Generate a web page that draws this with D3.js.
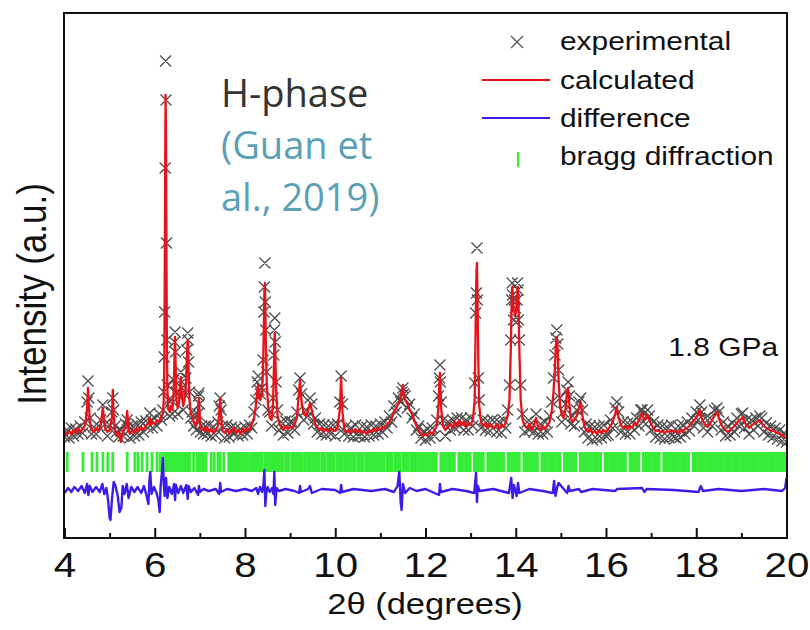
<!DOCTYPE html>
<html><head><meta charset="utf-8">
<script src="https://cdn.jsdelivr.net/npm/d3@7"></script>
<style>body{margin:0;background:#fff} svg{display:block}</style>
</head><body>
<svg id="chart" width="810" height="630"></svg>
<script>
// ---------- DATA ----------
const twoTheta = [
4.00,4.05,4.10,4.15,4.20,4.25,4.30,4.35,4.40,4.45,
4.50,4.52,4.54,4.57,4.60,4.65,4.70,4.75,4.80,4.85,
4.90,4.95,5.00,5.05,5.07,5.09,5.12,5.15,5.20,5.25,
5.30,5.35,5.39,5.42,5.45,5.50,5.55,5.60,5.65,5.70,
5.75,5.80,5.85,5.89,5.92,5.95,6.00,6.05,6.10,6.15,
6.18,6.20,6.21,6.22,6.23,6.24,6.25,6.26,6.27,6.28,
6.30,6.33,6.36,6.39,6.42,6.44,6.45,6.46,6.48,6.51,
6.54,6.56,6.58,6.60,6.63,6.66,6.69,6.71,6.73,6.74,
6.75,6.77,6.80,6.83,6.86,6.89,6.92,6.95,6.97,6.98,
6.99,7.01,7.04,7.08,
7.12,7.16,7.20,7.25,7.30,7.35,7.40,7.43,7.45,7.47,
7.50,7.55,7.60,7.65,7.70,7.75,7.80,7.85,7.90,7.95,
8.00,8.05,8.10,8.15,8.20,8.24,8.27,8.29,8.31,8.34,
8.37,8.40,8.42,8.43,8.44,8.45,8.46,8.48,8.51,8.55,
8.59,8.62,8.64,8.65,8.66,8.67,8.69,8.72,8.76,8.80,
8.85,8.90,8.95,9.00,
9.05,9.10,9.15,9.19,9.22,9.25,9.30,9.35,9.40,9.44,
9.48,9.52,9.56,9.60,9.65,9.70,9.75,9.80,9.85,9.90,
9.95,10.00,10.05,10.10,10.13,10.16,10.20,10.25,10.30,10.35,
10.40,10.45,10.50,
10.55,10.60,10.65,10.70,10.75,10.80,10.85,10.90,10.95,11.00,
11.05,11.10,11.15,11.20,11.25,11.30,11.35,11.40,11.45,11.48,
11.50,11.52,11.55,11.60,11.65,11.70,11.75,11.80,11.85,11.90,
11.95,12.00,
12.05,12.10,12.15,12.20,12.25,12.29,12.31,12.32,12.33,12.35,
12.39,12.44,12.50,12.55,12.60,12.65,12.70,12.75,12.80,12.85,
12.90,12.95,13.00,13.05,13.09,13.11,13.13,13.14,13.15,13.17,
13.19,13.23,13.28,13.33,13.38,13.43,13.48,
13.53,13.58,13.63,13.68,13.73,13.78,13.82,13.86,13.89,13.91,
13.92,13.93,13.95,13.97,13.99,14.01,14.03,14.04,14.05,14.06,
14.08,14.11,14.15,14.20,14.25,14.30,14.35,14.40,14.45,14.50,
14.55,14.60,14.65,14.70,14.75,14.80,14.84,14.87,14.89,14.91,
14.93,14.95,14.98,15.02,15.06,15.10,15.13,15.16,15.19,15.22,
15.26,15.30,15.35,15.40,15.44,15.48,15.52,15.56,15.60,15.65,
15.70,15.75,15.80,15.85,15.90,15.95,16.00,
16.05,16.10,16.15,16.20,16.24,16.28,16.33,16.38,16.43,16.48,
16.53,16.58,16.63,16.68,16.73,16.77,16.80,16.84,16.88,16.92,
16.96,17.00,17.05,17.10,17.15,17.20,17.25,17.30,17.35,17.40,
17.45,17.50,
17.55,17.60,17.65,17.70,17.75,17.80,17.85,17.90,17.95,18.00,
18.04,18.08,18.12,18.16,18.20,18.25,18.30,18.35,18.40,18.46,
18.50,18.55,18.60,18.65,18.70,18.75,18.80,18.85,18.90,18.95,
19.00,19.03,19.07,19.12,19.17,19.22,19.27,19.32,19.37,19.41,
19.45,19.50,19.55,19.60,19.65,19.70,19.75,19.80,19.85,19.90,
19.95,20.00
];
const yCalc = [
8,5,9,6,10,7,12,8,11,14,
30,52,34,16,10,8,12,9,14,32,
12,8,10,22,50,24,10,4,8,-2,
9,12,29,10,6,10,7,12,9,13,
10,14,16,22,15,18,16,20,18,24,
26,40,70,150,260,345,300,180,90,50,
32,28,34,30,50,90,103,80,40,32,
38,55,63,45,34,40,55,80,100,96,
70,40,28,22,18,16,14,20,38,42,
30,14,10,12,
9,13,8,11,7,10,14,28,42,24,
9,7,11,6,9,12,7,10,6,11,
8,12,10,16,22,34,48,55,42,40,
45,70,120,150,157,140,100,60,35,22,
20,35,70,100,107,90,50,25,16,13,
10,14,11,13,
12,16,22,45,60,40,26,24,30,37,
30,22,16,13,10,12,9,11,8,12,
10,9,12,30,62,28,11,8,10,7,
9,11,8,
10,7,9,6,10,8,11,9,12,10,
13,12,16,18,22,28,32,36,42,50,
55,44,40,36,30,26,20,14,10,6,
4,6,
5,8,6,10,14,35,60,67,55,30,
14,10,13,16,12,18,14,20,15,18,
13,17,15,20,40,110,170,177,150,80,
35,18,14,17,12,16,13,
12,16,11,15,13,18,24,40,90,140,
153,150,130,128,125,130,140,150,153,140,
90,40,20,14,12,16,10,14,22,12,
10,14,11,15,18,30,50,75,95,103,
90,60,35,25,22,30,45,52,35,22,
18,20,24,32,38,24,14,10,8,11,
7,9,6,10,7,10,8,
11,14,18,26,33,22,15,12,14,11,
14,12,17,15,20,24,27,20,22,25,
20,16,12,9,10,8,9,7,9,8,
10,8,
9,7,10,8,11,12,14,17,20,22,
26,30,22,18,15,13,16,20,24,28,
22,16,12,10,8,10,12,14,17,20,
21,23,18,14,12,14,16,17,19,20,
17,14,12,11,9,10,8,7,6,5,
3,2
];
const yObs = [
3,10,2,12,4,11,6,14,7,18,
38,59,42,22,6,13,6,14,20,35,
16,4,15,28,42,30,14,8,3,10,
4,16,20,14,2,14,4,16,5,18,
8,19,12,27,20,12,22,14,26,20,
30,48,83,128,272,379,340,197,100,55,
40,24,40,26,60,98,108,88,48,26,
44,60,68,52,30,46,62,90,107,100,
78,48,22,28,14,22,10,26,44,47,
36,8,14,6,
14,6,15,4,13,5,18,34,42,30,
14,2,15,3,13,6,12,4,11,5,
13,6,15,12,28,40,58,64,50,46,
52,80,128,153,177,138,110,68,30,28,
14,42,85,110,122,98,58,30,10,18,
5,19,7,18,
18,10,28,50,62,46,20,30,24,42,
36,16,22,8,16,6,15,5,14,6,
15,4,16,38,64,36,6,14,4,12,
3,15,4,
4,14,3,13,4,15,5,14,6,16,
8,18,12,24,18,34,28,42,38,48,
52,46,44,32,36,22,26,10,14,2,
8,0,
11,2,12,4,20,44,62,75,58,38,
20,4,18,10,20,12,22,14,22,10,
20,10,22,14,57,127,147,192,140,62,
40,12,20,10,19,9,20,
18,8,18,7,20,12,30,55,100,140,
157,145,120,140,132,118,140,157,150,120,
100,55,26,8,18,10,17,8,26,6,
16,6,18,8,24,38,62,85,102,110,
96,70,42,18,28,36,50,58,44,16,
24,14,30,38,42,30,8,16,2,14,
0,13,1,14,2,15,4,
5,20,12,32,38,28,8,18,6,17,
6,18,10,22,14,30,30,26,16,30,
24,10,18,3,15,2,14,1,13,2,
15,3,
2,14,3,15,6,18,9,22,14,28,
20,35,28,12,22,8,22,14,30,32,
28,10,18,4,14,5,17,8,22,14,
26,27,12,20,6,20,10,22,14,24,
22,8,17,5,14,3,12,1,10,-1,
7,-2
];
const diffTheta = [
4.00,4.08,4.15,4.22,4.30,4.38,4.45,4.50,4.53,4.56,
4.62,4.70,4.78,4.84,4.88,4.93,4.97,5.00,5.02,5.05,
5.09,5.13,5.18,5.22,5.26,5.29,5.33,5.38,5.42,5.48,
5.55,5.62,5.70,5.76,5.82,5.86,5.88,5.90,5.93,5.98,
6.04,6.08,6.11,6.13,6.16,6.18,6.20,6.22,6.25,6.28,
6.32,6.38,6.43,6.45,6.47,6.52,6.58,6.63,6.70,6.73,
6.75,6.80,6.88,6.96,6.98,7.00,7.08,7.20,7.35,7.43,
7.45,7.47,7.60,7.80,8.00,8.15,8.25,8.29,8.33,8.38,
8.41,8.43,8.45,8.47,8.50,8.55,8.60,8.63,8.65,8.67,
8.70,8.75,8.90,9.10,9.20,9.22,9.24,9.40,9.44,9.48,
9.70,10.00,10.11,10.13,10.15,10.40,10.80,11.10,11.30,11.38,
11.42,11.45,11.47,11.50,11.55,11.65,11.80,12.00,12.30,12.32,
12.34,12.60,12.90,13.08,13.12,13.14,13.16,13.20,13.50,13.85,
13.90,13.93,13.96,14.02,14.05,14.08,14.30,14.60,14.82,14.85,
14.88,14.92,14.95,15.10,15.14,15.17,15.20,15.40,15.45,15.70,
16.20,16.25,16.80,16.85,16.90,17.50,18.05,18.10,18.15,18.50,
19.00,19.50,19.90,19.97,20.00
];
const yDiff = [
-3,2,-2,3,-1,4,-3,6,-5,4,
-2,3,-2,6,-4,2,-12,-28,-30,-10,
8,4,-6,-22,-18,4,-4,6,-8,3,
-2,3,-3,4,-6,-14,8,18,-4,3,
-3,-10,-22,4,18,32,6,-6,12,-8,
3,-4,6,-10,5,-3,4,-3,5,-9,
4,-2,2,-5,4,-2,1,-1,1,-4,
7,-2,1,-1,1,-1,2,-4,3,-2,
6,20,-16,-4,3,-2,2,-4,18,-15,
2,-1,1,-1,-3,4,-2,1,4,-3,
1,0,-3,5,-2,1,-1,1,-2,4,
18,-12,-20,6,-3,2,-1,1,-5,6,
-2,1,-1,-3,17,-12,4,-1,1,-3,
12,-8,5,-6,7,-3,1,-1,-3,9,
-6,3,7,-1,-3,4,-1,1,-2,1,
-1,1,2,-2,1,0,-2,4,-1,1,
-1,1,-1,2,12
];
const braggPos = [
4.06,4.41,4.61,4.72,4.85,4.96,5.07,5.39,5.56,5.63,5.72,5.83,5.94,6.05,6.12,6.18,
6.24,6.27,6.31,6.34,6.38,6.42,6.45,6.49,6.52,6.56,6.60,6.63,6.67,6.70,6.74,6.77,
6.86,6.94,6.98,7.02,7.06,7.10,7.14,7.25,7.32,7.40,7.45,7.53,
7.64,7.68,7.72,7.76,7.80,7.84,7.88,7.92,7.96,8.00,8.04,
8.10,8.16,8.20,8.25,8.29,8.33,8.38,8.44,8.48,8.52,8.57,8.62,8.66,8.70,8.76,8.80,8.84,
8.90,8.94,8.98,9.04,9.08,9.13,9.17,9.22,9.26,9.32,9.36,9.41,9.45,9.50,9.55,9.60,
9.64,9.70,9.74,9.78,9.84,9.88,9.93,9.97,
10.03,10.07,10.12,10.16,10.22,10.26,10.30,10.36,10.40,10.44,10.50,10.54,10.58,10.62,
10.68,10.72,10.76,10.82,10.86,10.90,10.94,11.00,11.04,11.08,11.14,11.18,11.22,11.26,
11.32,11.36,11.40,11.44,11.50,11.54,11.58,11.62,11.68,11.72,11.76,11.80,11.86,11.90,
11.94,11.98,
12.04,12.09,12.14,12.19,12.24,12.34,12.39,12.44,12.49,12.54,12.59,12.64,12.74,12.79,
12.84,12.89,12.94,12.99,13.08,13.13,13.18,13.23,13.28,13.38,13.43,13.48,13.53,13.58,
13.63,13.68,13.73,13.83,13.88,13.93,13.98,14.03,14.08,14.18,14.23,14.28,14.33,14.38,
14.43,14.48,14.58,14.63,14.68,14.73,14.78,14.83,14.88,14.93,14.98,15.08,15.13,15.18,
15.23,15.28,15.33,15.43,15.48,15.53,15.58,15.63,15.68,15.73,15.78,15.83,15.88,15.98,
16.03,16.08,16.13,16.18,16.23,16.28,16.33,16.38,16.43,16.53,16.58,16.63,16.68,16.73,
16.83,16.88,16.93,16.98,17.03,17.08,17.13,17.18,17.28,17.33,17.38,17.43,17.48,17.53,
17.58,17.63,17.68,17.73,17.78,17.83,17.93,17.98,18.03,18.08,18.13,18.18,18.23,18.28,
18.33,18.38,18.43,18.48,18.53,18.58,18.63,18.68,18.73,18.78,18.83,18.88,18.93,18.98,
19.03,19.08,19.13,19.18,19.23,19.28,19.33,19.38,19.43,19.48,19.53,19.58,19.63,19.68,
19.73,19.78,19.83,19.88,19.93,19.98
];
const xTicks = [4,6,8,10,12,14,16,18,20];
const xMinorTicks = [5,7,9,11,13,15,17,19];
const legendLabels = ["experimental","calculated","difference","bragg diffraction"];
const xTitle = "2\u03b8 (degrees)";
const yTitle = "Intensity (a.u.)";
const pressureLabel = "1.8 GPa";
const phaseLabel = "H-phase";
const citeLines = ["(Guan et","al., 2019)"];

// ---------- DRAWING ----------
const svg = d3.select("#chart");
const x = d3.scaleLinear().domain([4,20]).range([64.5,786.5]);
const y = d3.scaleLinear().domain([-98,427]).range([538,13]);
const DIFF_OFFSET = -50, BRAGG_TOP = -12, BRAGG_BOTTOM = -32;
const RED = "#e8121a", BLUE = "#3a1ee6", GREEN = "#36ec36", CROSS = "#222";
const SX = 1.15; // horizontal stretch of the original figure text
const ARIAL = "'Liberation Sans', Arial, Helvetica, sans-serif";

svg.append("defs").append("clipPath").attr("id","clip")
  .append("rect").attr("x",65).attr("y",14).attr("width",721).attr("height",523);
const g = svg.append("g").attr("clip-path","url(#clip)");

// bragg reflections
g.append("g").selectAll("line").data(braggPos).join("line")
  .attr("x1",d=>x(d)).attr("x2",d=>x(d))
  .attr("y1",y(BRAGG_TOP)).attr("y2",y(BRAGG_BOTTOM))
  .attr("stroke",GREEN).attr("stroke-width",2.8);

// difference curve
const nd = Math.min(diffTheta.length, yDiff.length);
g.append("path").datum(d3.range(nd))
  .attr("d", d3.line().x(i=>x(diffTheta[i])).y(i=>y(yDiff[i]+DIFF_OFFSET)))
  .attr("fill","none").attr("stroke",BLUE).attr("stroke-width",2.4).attr("stroke-linejoin","round");

// experimental crosses
const n = Math.min(twoTheta.length, yObs.length, yCalc.length);
const s = 5.5;
const cp = d3.path();
for (let i=0;i<n;i++){
  const px = x(twoTheta[i]), py = y(yObs[i]);
  cp.moveTo(px-s,py-s); cp.lineTo(px+s,py+s);
  cp.moveTo(px-s,py+s); cp.lineTo(px+s,py-s);
}
g.append("path").attr("d",cp.toString()).attr("fill","none")
  .attr("stroke",CROSS).attr("stroke-width",1.3).attr("stroke-opacity",0.8);

// calculated curve
g.append("path").datum(d3.range(n))
  .attr("d", d3.line().x(i=>x(twoTheta[i])).y(i=>y(yCalc[i])))
  .attr("fill","none").attr("stroke",RED).attr("stroke-width",2.3).attr("stroke-linejoin","round");

// frame
svg.append("rect").attr("x",64).attr("y",13).attr("width",723).attr("height",525)
  .attr("fill","none").attr("stroke","#111").attr("stroke-width",2);

// axes
const ax = svg.append("g").attr("transform","translate(0,538)")
  .call(d3.axisBottom(x).tickValues(xTicks).tickSize(-10).tickPadding(14).tickFormat(d3.format("d")));
ax.select(".domain").remove();
ax.selectAll("line").attr("stroke","#111").attr("stroke-width",2);
ax.selectAll("text").attr("font-family",ARIAL).attr("font-size",35).attr("fill","#111")
  .attr("transform",`scale(${SX},1)`);
const axm = svg.append("g").attr("transform","translate(0,538)")
  .call(d3.axisBottom(x).tickValues(xMinorTicks).tickSize(-5).tickFormat(""));
axm.select(".domain").remove();
axm.selectAll("line").attr("stroke","#111").attr("stroke-width",2);

// axis titles
svg.append("text").attr("transform",`translate(425,614) scale(${SX},1)`)
  .attr("text-anchor","middle").attr("font-family",ARIAL).attr("font-size",30).attr("fill","#111")
  .text(xTitle);
svg.append("text").attr("transform",`translate(46,294) rotate(-90) scale(1,${SX})`)
  .attr("text-anchor","middle").attr("font-family",ARIAL).attr("font-size",35).attr("fill","#111")
  .text(yTitle);

// pressure label
svg.append("text").attr("transform",`translate(778,356) scale(${SX},1)`)
  .attr("text-anchor","end").attr("font-family",ARIAL).attr("font-size",26).attr("fill","#111")
  .text(pressureLabel);

// legend
const lg = svg.append("g");
const rowsY = [50,89,127,165];
const symY = [42,80,118,160];
const lc = d3.path();
lc.moveTo(517-6,42-6); lc.lineTo(517+6,42+6); lc.moveTo(517-6,42+6); lc.lineTo(517+6,42-6);
lg.append("path").attr("d",lc.toString()).attr("stroke","#555").attr("stroke-width",1.3).attr("fill","none");
lg.append("line").attr("x1",482).attr("x2",550).attr("y1",symY[1]).attr("y2",symY[1]).attr("stroke",RED).attr("stroke-width",2);
lg.append("line").attr("x1",482).attr("x2",550).attr("y1",symY[2]).attr("y2",symY[2]).attr("stroke",BLUE).attr("stroke-width",2);
lg.append("line").attr("x1",518).attr("x2",518).attr("y1",symY[3]-8).attr("y2",symY[3]+7).attr("stroke",GREEN).attr("stroke-width",2);
lg.selectAll("text").data(legendLabels).join("text")
  .attr("transform",(d,i)=>`translate(560,${rowsY[i]}) scale(${SX},1)`)
  .attr("font-family",ARIAL).attr("font-size",26).attr("fill","#111").text(d=>d);

// annotation (three lines, spaced so their boxes do not overlap)
const OPEN = "'Open Sans', 'Noto Sans', sans-serif";
const ann = svg.append("text").attr("x",221).attr("y",107).attr("font-family",OPEN).attr("font-size",38);
ann.append("tspan").attr("x",221).attr("y",107).attr("fill","#333").text(phaseLabel);
citeLines.forEach((t,i)=>{
  ann.append("tspan").attr("x",221).attr("y",159+i*52).attr("fill","#5aa0b6").text(t);
});
</script>
</body></html>
